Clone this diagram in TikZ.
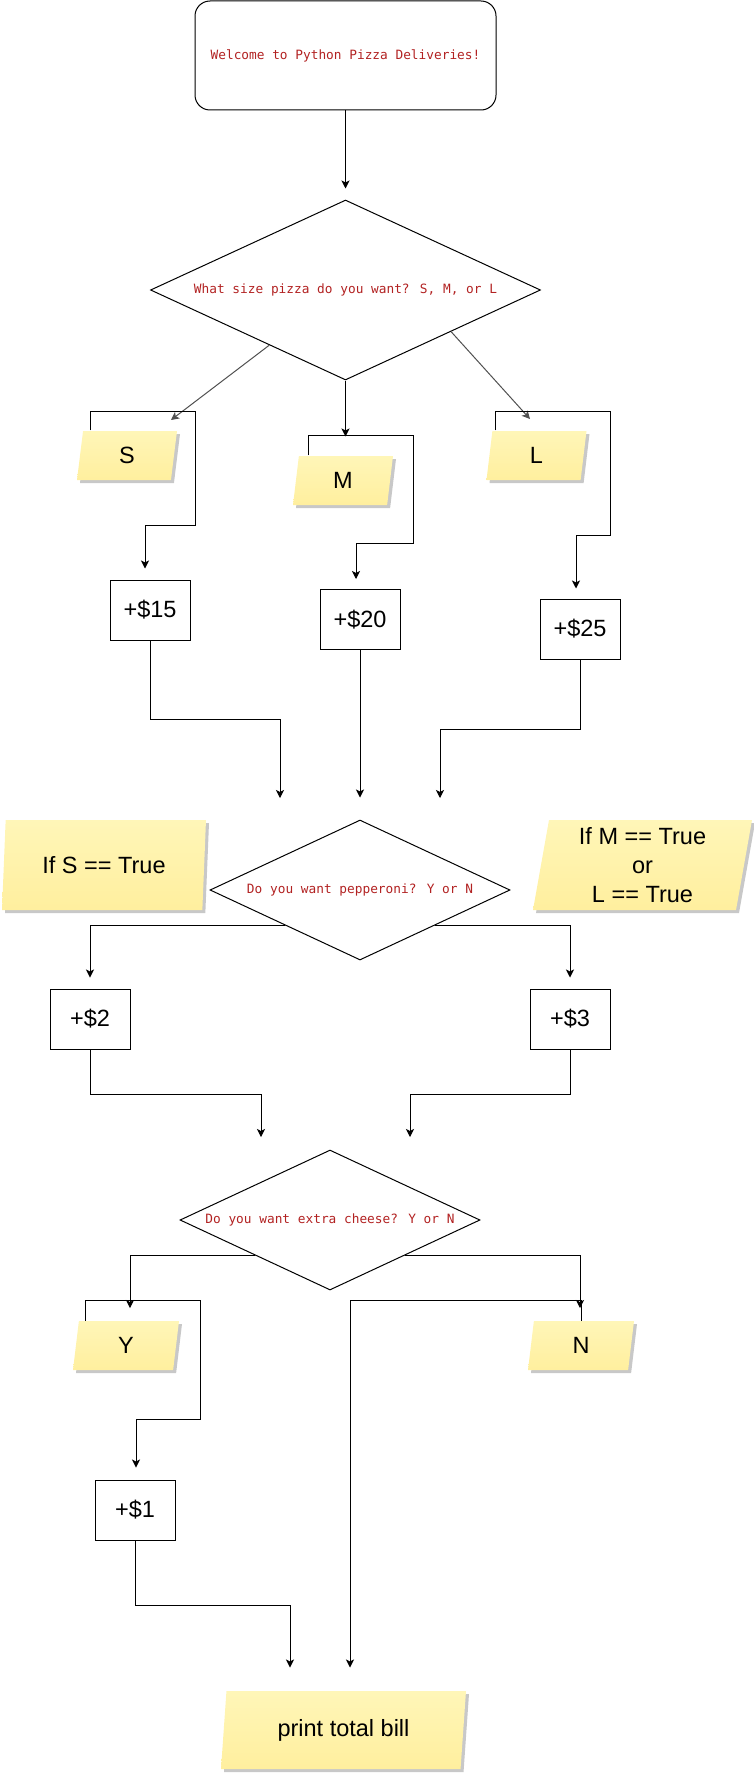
\documentclass[tikz,border=0pt]{standalone}
\usepackage{fontspec}
\setmainfont{Liberation Sans}
\newfontfamily\codefont{DejaVu Sans Mono}
\usepackage{xcolor}
\usepackage{tikz}
\usetikzlibrary{arrows.meta,calc,positioning,shapes.geometric,shadows}

\definecolor{promptred}{RGB}{178,34,34}
\definecolor{notetop}{RGB}{255,246,184}
\definecolor{notebottom}{RGB}{255,239,158}
\definecolor{notegray}{RGB}{200,200,200}
\definecolor{edgegray}{RGB}{80,80,80}
\newcommand{\bigtxt}{\fontsize{23.5}{29}\selectfont}
\newcommand{\codetxt}{\codefont\fontsize{12.8}{15}\selectfont}

\begin{document}
\begin{tikzpicture}[
    x=1pt, y=-1pt,
    line width=1pt,
    flow/.style={draw, -{Stealth[length=8pt,width=8pt,inset=2pt]}},
    askbox/.style={diamond, draw, inner sep=0pt, font=\codetxt, text=promptred},
    costbox/.style={rectangle, draw, minimum width=80pt, minimum height=60pt, inner sep=0pt, font=\bigtxt},
    iobox/.style={trapezium, trapezium left angle=#1, trapezium right angle=180-#1,
        trapezium stretches body, inner sep=0pt, draw=none,
        top color=notetop, bottom color=notebottom,
        drop shadow={shadow xshift=3pt, shadow yshift=-3pt, fill=notegray, opacity=1},
        font=\bigtxt, align=center},
    iobox/.default=70]
\useasboundingbox (0,0) rectangle (753,1774);

% size question
\node[rectangle, draw, rounded corners=15pt, minimum width=301pt, minimum height=109pt,
      font=\codetxt, text=promptred] (welcome) at (345.5,55.5) {Welcome to Python Pizza Deliveries!};
\node[askbox, shape aspect=2.1667, minimum width=390pt, minimum height=180pt] (size) at (345.5,290) {What size pizza do you want? S, M, or L};

\node[iobox, minimum width=100pt, minimum height=49pt] (S) at (127,455.5) {S};
\node[iobox, minimum width=100pt, minimum height=49pt] (M) at (343,480.5) {M};
\node[iobox, minimum width=100pt, minimum height=49pt] (L) at (536.5,455.5) {L};

\node[costbox] (p15) at (150,610) {+\$15};
\node[costbox] (p20) at (360,619.5) {+\$20};
\node[costbox] (p25) at (580,629) {+\$25};

% pepperoni question
\node[askbox, shape aspect=2.1429, minimum width=300pt, minimum height=140pt] (pep) at (360,890) {Do you want pepperoni? Y or N};
\node[iobox=78, minimum width=204pt, minimum height=90pt] (ifS) at (104,865) {If S == True};
\node[iobox=78, minimum width=219pt, minimum height=90pt] (ifML) at (642.5,865) {If M == True\\or\\L == True};

\node[costbox] (p2) at (90,1019) {+\$2};
\node[costbox] (p3) at (570,1019) {+\$3};

% cheese question
\node[askbox, shape aspect=2.1429, minimum width=300pt, minimum height=140pt] (cheese) at (330,1220) {Do you want extra cheese? Y or N};
\node[iobox, minimum width=106pt, minimum height=49pt] (Y) at (126,1345.5) {Y};
\node[iobox, minimum width=106pt, minimum height=49pt] (N) at (581,1345.5) {N};
\node[costbox] (p1) at (135,1510) {+\$1};

\node[iobox=76, minimum width=245pt, minimum height=78pt] (bill) at (343.5,1730) {print total bill};

\coordinate (toS) at (171,420);
\coordinate (toL) at (530,419);

\path[flow, shorten >=11pt] (welcome.south) -- (size.north);
\path[flow, draw=edgegray] ($(size.west)!0.61!(size.south)$) -- (toS);
\path[flow, shorten >=19pt] (size.south) -- (size.south |- M.north);
\path[flow, draw=edgegray] ($(size.east)!0.46!(size.south)$) -- (toL);

\path[flow, shorten >=11pt] ([xshift=-37pt]S.north) |- (195,411) |- (145,525) -- ([xshift=-5pt]p15.north);
\path[flow, shorten >=10pt] ([xshift=-35pt]M.north) |- (413,435) |- (356,543) -- ([xshift=-4pt]p20.north);
\path[flow, shorten >=10pt] ([xshift=-41pt]L.north) |- (610,411) |- (576,535) -- ([xshift=-4pt]p25.north);

\path[flow] (p15.south) |- (280,719) -- (280,798);
\path[flow, shorten >=22pt] (p20.south) -- (pep.north);
\path[flow] (p25.south) |- (440,729) -- (440,798);

\path[flow, shorten >=11pt] (pep.south west) -| (p2.north);
\path[flow, shorten >=11pt] (pep.south east) -| (p3.north);

\path[flow] (p2.south) |- (261,1094) -- (261,1137);
\path[flow] (p3.south) |- (410,1094) -- (410,1137);

\path[flow] (cheese.south west) -| (130,1308);
\path[flow] (cheese.south east) -| (580,1308);

\path[flow, shorten >=12pt] ([xshift=-41pt]Y.north) |- (200,1300) |- (136,1419) -- ([xshift=1pt]p1.north);
\path[flow, shorten >=23pt] (N.north) |- (350,1300) -- (350,0 |- bill.north);
\path[flow, shorten >=23pt] (p1.south) |- (290,1605) -- (290,0 |- bill.north);

\end{tikzpicture}
\end{document}
